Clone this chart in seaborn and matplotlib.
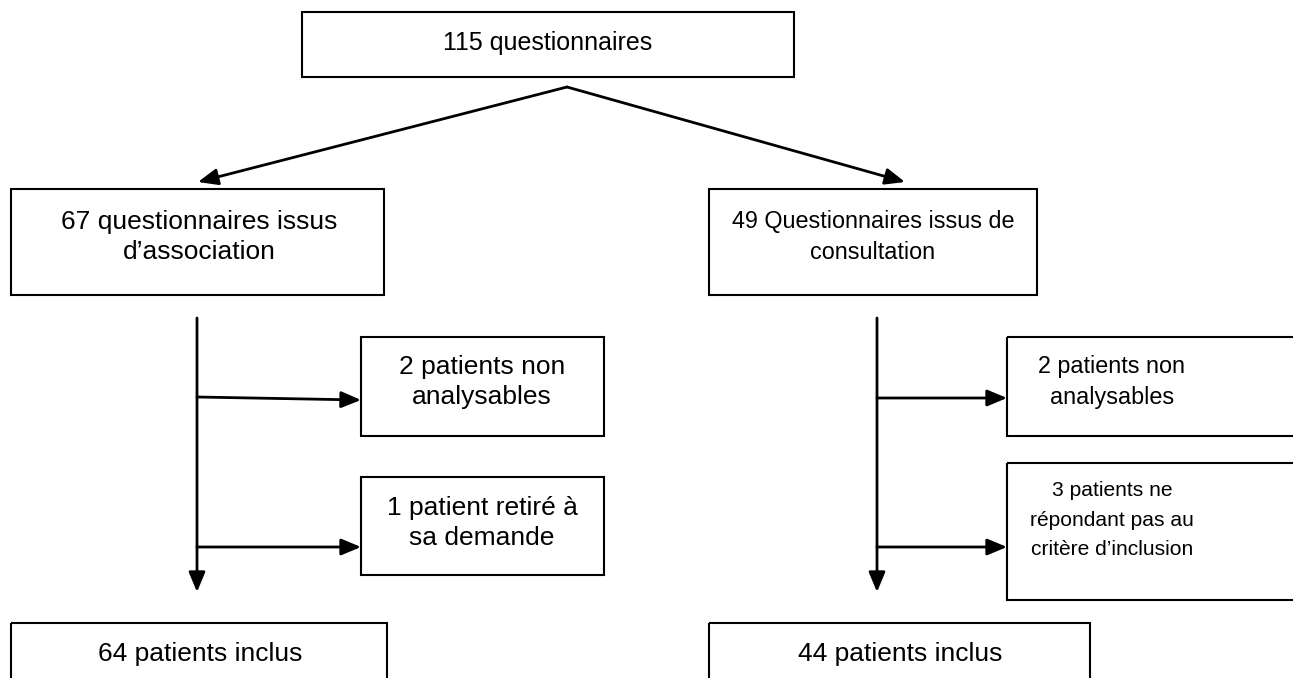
import matplotlib
matplotlib.use("Agg")
import matplotlib.pyplot as plt
import seaborn as sns
from matplotlib import font_manager
from matplotlib.patches import Rectangle

# ---- content ----
top_label = "115 questionnaires"
group_labels = ["67 questionnaires issus\nd\u2019association",
                "49 Questionnaires issus de\nconsultation"]
left_excl_labels = ["2 patients non\nanalysables",
                    "1 patient retir\u00e9 \u00e0\nsa demande"]
right_excl_labels = ["2 patients non\nanalysables",
                     "3 patients ne\nr\u00e9pondant pas au\ncrit\u00e8re d\u2019inclusion"]
final_labels = ["64 patients inclus", "44 patients inclus"]

# ---- layout (pixels, y downward) ----
W, H = 1293, 678
sns.set_theme(style="white")
plt.rcParams['font.family'] = ['Liberation Sans', 'DejaVu Sans']

installed = {f.name for f in font_manager.fontManager.ttflist}
if 'Liberation Sans Narrow' in installed:
    NARROW = ['Liberation Sans Narrow', 'Liberation Sans', 'DejaVu Sans']
    NSCALE = 1.0
else:
    NARROW = ['Liberation Sans', 'DejaVu Sans']
    NSCALE = 0.84

fig = plt.figure(figsize=(W / 100, H / 100), dpi=100)
ax = fig.add_axes([0, 0, 1, 1])
ax.set_xlim(0, W)
ax.set_ylim(H, 0)
ax.axis("off")

LW = 1.5
FS = 19


def box(x0, y0, x1, y1, text, tx, ty, fs=FS, ls=1.32, family=None):
    ax.add_patch(Rectangle((x0, y0), x1 - x0, y1 - y0, fill=False,
                           edgecolor="black", lw=LW, clip_on=True))
    kw = {}
    if family is not None:
        kw["family"] = family
    ax.text(tx, ty, text, ha="center", va="center", fontsize=fs,
            linespacing=ls, color="black", **kw)


def arrow(x0, y0, x1, y1):
    ax.annotate("", xy=(x1, y1), xytext=(x0, y0),
                arrowprops=dict(arrowstyle="-|>,head_length=0.6,head_width=0.25",
                                mutation_scale=20, lw=2.0, color="black",
                                shrinkA=0, shrinkB=0))


# boxes
box(302, 12, 794, 77, top_label, 548, 43, fs=18)
box(11, 189, 384, 295, group_labels[0], 199, 237)
box(709, 189, 1037, 295, group_labels[1], 873, 237,
    fs=20 * NSCALE, ls=1.25 / NSCALE if NSCALE < 1 else 1.25, family=NARROW)
box(361, 337, 604, 436, left_excl_labels[0], 482, 382)
box(361, 477, 604, 575, left_excl_labels[1], 482, 523)
box(1007, 337, 1310, 436, right_excl_labels[0], 1112, 382,
    fs=20 * NSCALE, ls=1.25 / NSCALE if NSCALE < 1 else 1.25, family=NARROW)
box(1007, 463, 1310, 600, right_excl_labels[1], 1112, 520,
    fs=18 * NSCALE, ls=1.45 / NSCALE if NSCALE < 1 else 1.45, family=NARROW)
box(11, 623, 387, 720, final_labels[0], 200, 654)
box(709, 623, 1090, 720, final_labels[1], 900, 654)

# diagonal arrows from apex
arrow(567, 87, 198, 182)
arrow(567, 87, 905, 182)

# trunks
arrow(197, 318, 197, 592)
arrow(877, 318, 877, 592)

# branches
arrow(197, 397, 361, 400)
arrow(197, 547, 361, 547)
arrow(877, 398, 1007, 398)
arrow(877, 547, 1007, 547)

fig.savefig("out.png", dpi=100, facecolor="white")
